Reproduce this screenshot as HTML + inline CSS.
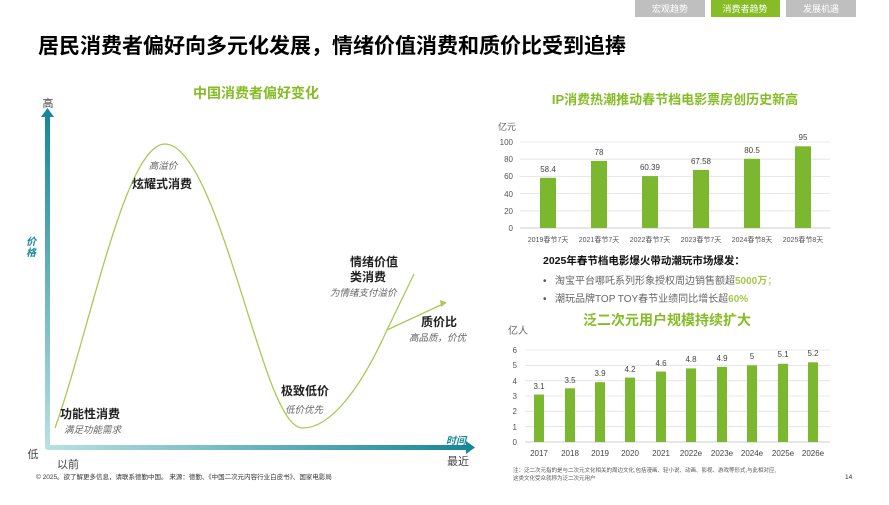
<!DOCTYPE html>
<html><head><meta charset="utf-8">
<style>
body{margin:0;width:889px;height:500px;background:#fff;overflow:hidden;font-family:"Liberation Sans","Noto Sans CJK SC",sans-serif;}
svg text{font-family:"Liberation Sans","Noto Sans CJK SC",sans-serif;}
</style></head><body>
<svg width="889" height="500" viewBox="0 0 889 500" xmlns="http://www.w3.org/2000/svg">
<defs>
<linearGradient id="gy" x1="0" y1="1" x2="0" y2="0"><stop offset="0" stop-color="#b9e1e1"/><stop offset="1" stop-color="#17879a"/></linearGradient>
<linearGradient id="gx" x1="0" y1="0" x2="1" y2="0"><stop offset="0" stop-color="#b9e1e1"/><stop offset="1" stop-color="#17879a"/></linearGradient>
</defs>
<!-- tabs -->
<rect x="635" y="0" width="70" height="17" fill="#bfbfbf"/><text x="670" y="12" font-size="9" fill="#fff" text-anchor="middle">宏观趋势</text>
<rect x="711" y="0" width="69" height="17" fill="#86bc25"/><text x="745" y="12" font-size="9" fill="#fff" text-anchor="middle">消费者趋势</text>
<rect x="786" y="0" width="70" height="17" fill="#bfbfbf"/><text x="821" y="12" font-size="9" fill="#fff" text-anchor="middle">发展机遇</text>
<text x="38" y="53" font-size="21" font-weight="bold" fill="#000">居民消费者偏好向多元化发展，情绪价值消费和质价比受到追捧</text>
<!-- left chart -->
<text x="256" y="98" font-size="14" font-weight="bold" fill="#86bc25" text-anchor="middle">中国消费者偏好变化</text>
<rect x="45" y="116" width="5" height="333" fill="url(#gy)"/>
<polygon points="41,117 54,117 47.5,108" fill="#17879a"/>
<rect x="47" y="445" width="420" height="5" fill="url(#gx)"/>
<polygon points="466,441 466,454 475,447.5" fill="#17879a"/>
<text x="48" y="107" font-size="11" fill="#444" text-anchor="middle">高</text>
<text x="33" y="458" font-size="11" fill="#444" text-anchor="middle">低</text>
<text x="57" y="468" font-size="11" fill="#444">以前</text>
<text x="447" y="465" font-size="11" fill="#444">最近</text>
<text x="31" y="245" font-size="10" font-weight="bold" font-style="italic" fill="#17879a" text-anchor="middle">价</text>
<text x="31" y="256" font-size="10" font-weight="bold" font-style="italic" fill="#17879a" text-anchor="middle">格</text>
<text x="446" y="444" font-size="10" font-weight="bold" font-style="italic" fill="#17879a">时间</text>
<path d="M55,428 C90,330 125,144 165,144 C205,144 240,300 270,380 C285,420 295,428 303,428 C330,428 360,390 387,330 L414,274" fill="none" stroke="#a9c957" stroke-width="1.3"/>
<path d="M387,330 L445,303" fill="none" stroke="#a9c957" stroke-width="1.3"/>
<polygon points="440,300 447,302.5 441,307" fill="#a9c957"/>
<text x="163" y="169" font-size="9.5" font-style="italic" fill="#666" text-anchor="middle">高溢价</text>
<text x="162" y="188" font-size="12" font-weight="bold" fill="#222" text-anchor="middle">炫耀式消费</text>
<text x="60" y="418" font-size="12" font-weight="bold" fill="#222">功能性消费</text>
<text x="64" y="433" font-size="9.5" font-style="italic" fill="#666">满足功能需求</text>
<text x="281" y="395" font-size="12" font-weight="bold" fill="#222">极致低价</text>
<text x="285" y="413" font-size="9.5" font-style="italic" fill="#666">低价优先</text>
<text x="350" y="266" font-size="12" font-weight="bold" fill="#222">情绪价值</text>
<text x="350" y="281" font-size="12" font-weight="bold" fill="#222">类消费</text>
<text x="330" y="296" font-size="9.5" font-style="italic" fill="#666">为情绪支付溢价</text>
<text x="421" y="326" font-size="12" font-weight="bold" fill="#222">质价比</text>
<text x="409" y="341" font-size="9.5" font-style="italic" fill="#666">高品质，价优</text>
<!-- right chart 1 -->
<text x="675" y="104" font-size="13" font-weight="bold" fill="#86bc25" text-anchor="middle">IP消费热潮推动春节档电影票房创历史新高</text>
<text x="498" y="130" font-size="9" fill="#666">亿元</text>
<g stroke="#e0e0e0" stroke-width="0.8">
<line x1="520" y1="142" x2="830" y2="142"/><line x1="520" y1="159.2" x2="830" y2="159.2"/><line x1="520" y1="176.4" x2="830" y2="176.4"/><line x1="520" y1="193.6" x2="830" y2="193.6"/><line x1="520" y1="210.8" x2="830" y2="210.8"/></g>
<line x1="520" y1="228" x2="830" y2="228" stroke="#bbb" stroke-width="0.8"/>
<g font-size="8" fill="#555" text-anchor="end">
<text x="513" y="145">100</text><text x="513" y="162">80</text><text x="513" y="179">60</text><text x="513" y="197">40</text><text x="513" y="214">20</text><text x="513" y="231">0</text></g>
<g fill="#7cb82f">
<rect x="540" y="177.8" width="16" height="50.2"/><rect x="591" y="160.9" width="16" height="67.1"/><rect x="642" y="176.1" width="16" height="51.9"/><rect x="693" y="169.9" width="16" height="58.1"/><rect x="744" y="158.8" width="16" height="69.2"/><rect x="795" y="146.3" width="16" height="81.7"/></g>
<g font-size="8" fill="#444" text-anchor="middle">
<text x="548" y="172">58.4</text><text x="599" y="155">78</text><text x="650" y="170">60.39</text><text x="701" y="164">67.58</text><text x="752" y="153">80.5</text><text x="803" y="140">95</text></g>
<g font-size="7" fill="#555" text-anchor="middle">
<text x="548" y="242">2019春节7天</text><text x="599" y="242">2021春节7天</text><text x="650" y="242">2022春节7天</text><text x="701" y="242">2023春节7天</text><text x="752" y="242">2024春节8天</text><text x="803" y="242">2025春节8天</text></g>
<text x="543" y="264" font-size="10.5" font-weight="bold" fill="#111">2025年春节档电影爆火带动潮玩市场爆发：</text>
<text x="543" y="284" font-size="10" fill="#555">•</text>
<text x="555" y="284" font-size="10" fill="#666">淘宝平台哪吒系列形象授权周边销售额超<tspan fill="#a4c84a" font-weight="bold">5000万</tspan><tspan fill="#a4c84a">；</tspan></text>
<text x="543" y="302" font-size="10" fill="#555">•</text>
<text x="555" y="302" font-size="10" fill="#666">潮玩品牌TOP TOY春节业绩同比增长超<tspan fill="#a4c84a" font-weight="bold">60%</tspan></text>
<!-- right chart 2 -->
<text x="667" y="325" font-size="14" font-weight="bold" fill="#86bc25" text-anchor="middle">泛二次元用户规模持续扩大</text>
<text x="508" y="334" font-size="10" fill="#666">亿人</text>
<g stroke="#e0e0e0" stroke-width="0.8">
<line x1="525" y1="350" x2="830" y2="350"/><line x1="525" y1="365.3" x2="830" y2="365.3"/><line x1="525" y1="380.7" x2="830" y2="380.7"/><line x1="525" y1="396" x2="830" y2="396"/><line x1="525" y1="411.3" x2="830" y2="411.3"/><line x1="525" y1="426.7" x2="830" y2="426.7"/></g>
<line x1="525" y1="442" x2="830" y2="442" stroke="#bbb" stroke-width="0.8"/>
<g font-size="8" fill="#555" text-anchor="end">
<text x="517" y="353">6</text><text x="517" y="368">5</text><text x="517" y="384">4</text><text x="517" y="399">3</text><text x="517" y="414">2</text><text x="517" y="430">1</text><text x="517" y="445">0</text></g>
<g fill="#7cb82f">
<rect x="534" y="394.5" width="10" height="47.5"/><rect x="565" y="388.3" width="10" height="53.7"/><rect x="595" y="382.2" width="10" height="59.8"/><rect x="625" y="377.6" width="10" height="64.4"/><rect x="656" y="371.5" width="10" height="70.5"/><rect x="686" y="368.4" width="10" height="73.6"/><rect x="717" y="366.9" width="10" height="75.1"/><rect x="747" y="365.3" width="10" height="76.7"/><rect x="778" y="363.8" width="10" height="78.2"/><rect x="808" y="362.3" width="10" height="79.7"/></g>
<g font-size="8" fill="#444" text-anchor="middle">
<text x="539" y="389">3.1</text><text x="570" y="383">3.5</text><text x="600" y="376">3.9</text><text x="630" y="372">4.2</text><text x="661" y="366">4.6</text><text x="691" y="362">4.8</text><text x="722" y="361">4.9</text><text x="752" y="359">5</text><text x="783" y="357">5.1</text><text x="813" y="356">5.2</text></g>
<g font-size="8" fill="#444" text-anchor="middle">
<text x="539" y="456">2017</text><text x="570" y="456">2018</text><text x="600" y="456">2019</text><text x="630" y="456">2020</text><text x="661" y="456">2021</text><text x="691" y="456">2022e</text><text x="722" y="456">2023e</text><text x="752" y="456">2024e</text><text x="783" y="456">2025e</text><text x="813" y="456">2026e</text></g>
<text x="513" y="472" font-size="5.5" fill="#555">注：泛二次元指的是与二次元文化相关的周边文化,包括漫画、轻小说、动画、影视、游戏等形式,与此相对应,</text>
<text x="513" y="480" font-size="5.5" fill="#555">这类文化受众就称为泛二次元用户</text>
<!-- footer -->
<text x="36" y="479" font-size="6.5" fill="#333">© 2025。欲了解更多信息，请联系德勤中国。      来源：德勤、《中国二次元内容行业白皮书》、国家电影局</text>
<text x="845" y="479" font-size="6.5" fill="#333">14</text>
</svg>
</body></html>
